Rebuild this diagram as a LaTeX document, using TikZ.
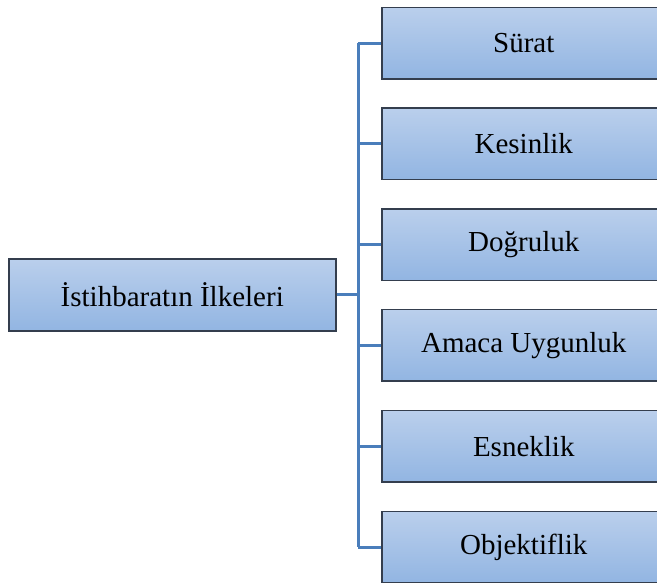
\documentclass[tikz,border=0pt]{standalone}
\usepackage{fontspec}
\setmainfont{Liberation Serif}
\definecolor{boxtop}{RGB}{186,207,236}
\definecolor{boxbottom}{RGB}{146,181,226}
\definecolor{boxedge}{RGB}{52,62,78}
\definecolor{linkblue}{RGB}{74,126,187}
\tikzset{
  itembox/.style={draw=boxedge, line width=1.5pt, top color=boxtop, bottom color=boxbottom,
    minimum width=284pt, minimum height=71.5pt, inner sep=0pt, anchor=north west,
    font=\fontsize{29}{34}\selectfont},
  rootbox/.style={itembox, minimum width=327pt, minimum height=72pt},
  link/.style={draw=linkblue, line width=3pt}
}
\begin{document}
\begin{tikzpicture}[x=1pt, y=-1pt]
  \clip (0,0) rectangle (657,582);
  \fill[white] (0,0) rectangle (657,582);
  % root node
  \node[rootbox] (root) at (8,258) {İstihbaratın İlkeleri};
  % principle nodes
  \node[itembox] (p1) at (381,6.5)   {Sürat};
  \node[itembox] (p2) at (381,107.3) {Kesinlik};
  \node[itembox] (p3) at (381,208.1) {Doğruluk};
  \node[itembox] (p4) at (381,308.9) {Amaca Uygunluk};
  \node[itembox] (p5) at (381,409.7) {Esneklik};
  \node[itembox] (p6) at (381,510.5) {Objektiflik};
  % trunk of the tree
  \coordinate (trunk) at (358,0);
  \draw[link] (root.east) -- (root.east -| trunk);
  \draw[link] (p1.west -| trunk) -- (p6.west -| trunk);
  \foreach \p in {p1,p2,p3,p4,p5,p6}
    \draw[link] (\p.west -| trunk) -- (\p.west);
\end{tikzpicture}
\end{document}
